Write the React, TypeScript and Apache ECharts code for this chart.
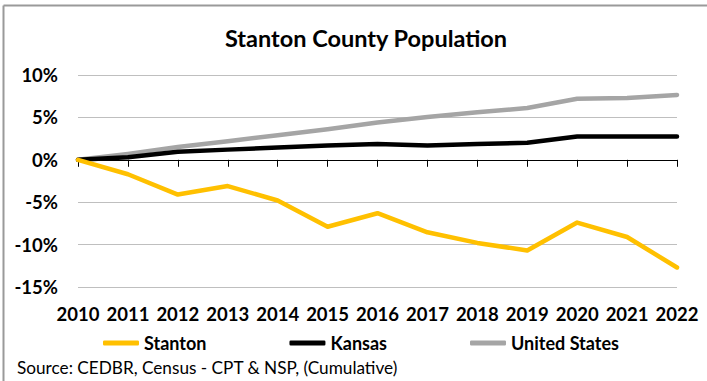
import React, { useEffect, useRef } from "react";
import * as echarts from "echarts";

const years = ["2010", "2011", "2012", "2013", "2014", "2015", "2016", "2017", "2018", "2019", "2020", "2021", "2022"];
const stanton = [0, -1.7, -4.1, -3.1, -4.8, -7.9, -6.3, -8.55, -9.8, -10.7, -7.4, -9.1, -12.7];
const kansas = [0, 0.3, 0.95, 1.2, 1.45, 1.7, 1.85, 1.7, 1.85, 2.0, 2.75, 2.75, 2.75];
const unitedStates = [0, 0.7, 1.5, 2.2, 2.9, 3.6, 4.4, 5.05, 5.6, 6.1, 7.2, 7.3, 7.65];
const seriesNames = ["Stanton", "Kansas", "United States"];
const colors = ["#FFC000", "#000000", "#A5A5A5"];
const titleText = "Stanton County Population";
const sourceText = "Source: CEDBR, Census - CPT & NSP, (Cumulative)";

const FONT = "Lato, 'Noto Sans', sans-serif";

export default function App() {
  const ref = useRef<HTMLDivElement>(null);
  useEffect(() => {
    if (!ref.current) return;
    const chart = echarts.init(ref.current, undefined, { renderer: "svg" });
    const data = [stanton, kansas, unitedStates];
    chart.setOption({
      animation: false,
      backgroundColor: "#ffffff",
      title: {
        text: titleText,
        left: 361,
        top: 21,
        textAlign: "center",
        textStyle: { fontFamily: FONT, fontSize: 23.5, fontWeight: "bold", color: "#000" },
      },
      legend: {
        data: seriesNames,
        left: 103,
        top: 334,
        itemWidth: 36,
        itemHeight: 5,
        itemGap: 83,
        icon: "roundRect",
        padding: 0,
        textStyle: { fontFamily: FONT, fontSize: 18, fontWeight: "bold", color: "#000", lineHeight: 18 },
      },
      grid: { left: 78, right: 30, top: 75, bottom: 94 },
      xAxis: [
        {
          type: "category",
          data: years,
          boundaryGap: false,
          axisLine: { onZero: true, lineStyle: { color: "#000", width: 1 } },
          axisTick: { show: true, length: 7, inside: false, interval: 0, lineStyle: { color: "#000" } },
          axisLabel: { show: false },
          splitLine: { show: false },
        },
        {
          type: "category",
          data: years,
          boundaryGap: false,
          position: "bottom",
          axisLine: { show: false, onZero: false },
          axisTick: { show: false },
          axisLabel: { show: true, interval: 0, margin: 17, fontFamily: FONT, fontSize: 18.5, fontWeight: "bold", color: "#000" },
          splitLine: { show: false },
        },
      ],
      yAxis: {
        type: "value",
        min: -15,
        max: 10,
        interval: 5,
        axisLine: { show: false },
        axisTick: { show: false },
        axisLabel: {
          margin: 20,
          formatter: "{value}%",
          fontFamily: FONT,
          fontSize: 18.5,
          fontWeight: "bold",
          color: "#000",
        },
        splitLine: { show: true, lineStyle: { color: "#BFBFBF", width: 1 } },
      },
      series: seriesNames.map((name, i) => ({
        name,
        type: "line",
        xAxisIndex: 0,
        data: data[i],
        symbol: "none",
        lineStyle: { color: colors[i], width: 4.5, join: "round", cap: "round" },
        itemStyle: { color: colors[i] },
        z: 3 - i + 2,
      })),
      graphic: [
        {
          type: "line",
          shape: { x1: 3.5, y1: 5.5, x2: 707, y2: 5.5 },
          style: { stroke: "#9a9a9a", lineWidth: 2 },
        },
        {
          type: "line",
          shape: { x1: 3.5, y1: 5.5, x2: 3.5, y2: 381 },
          style: { stroke: "#9a9a9a", lineWidth: 2 },
        },
        {
          type: "text",
          left: 17,
          top: 359,
          style: { text: sourceText, fontFamily: FONT, fontSize: 17.2, fill: "#000" },
        },
      ],
    });
    return () => chart.dispose();
  }, []);
  return <div ref={ref} style={{ width: 707, height: 381, position: "absolute", left: 0, top: 0 }} />;
}
